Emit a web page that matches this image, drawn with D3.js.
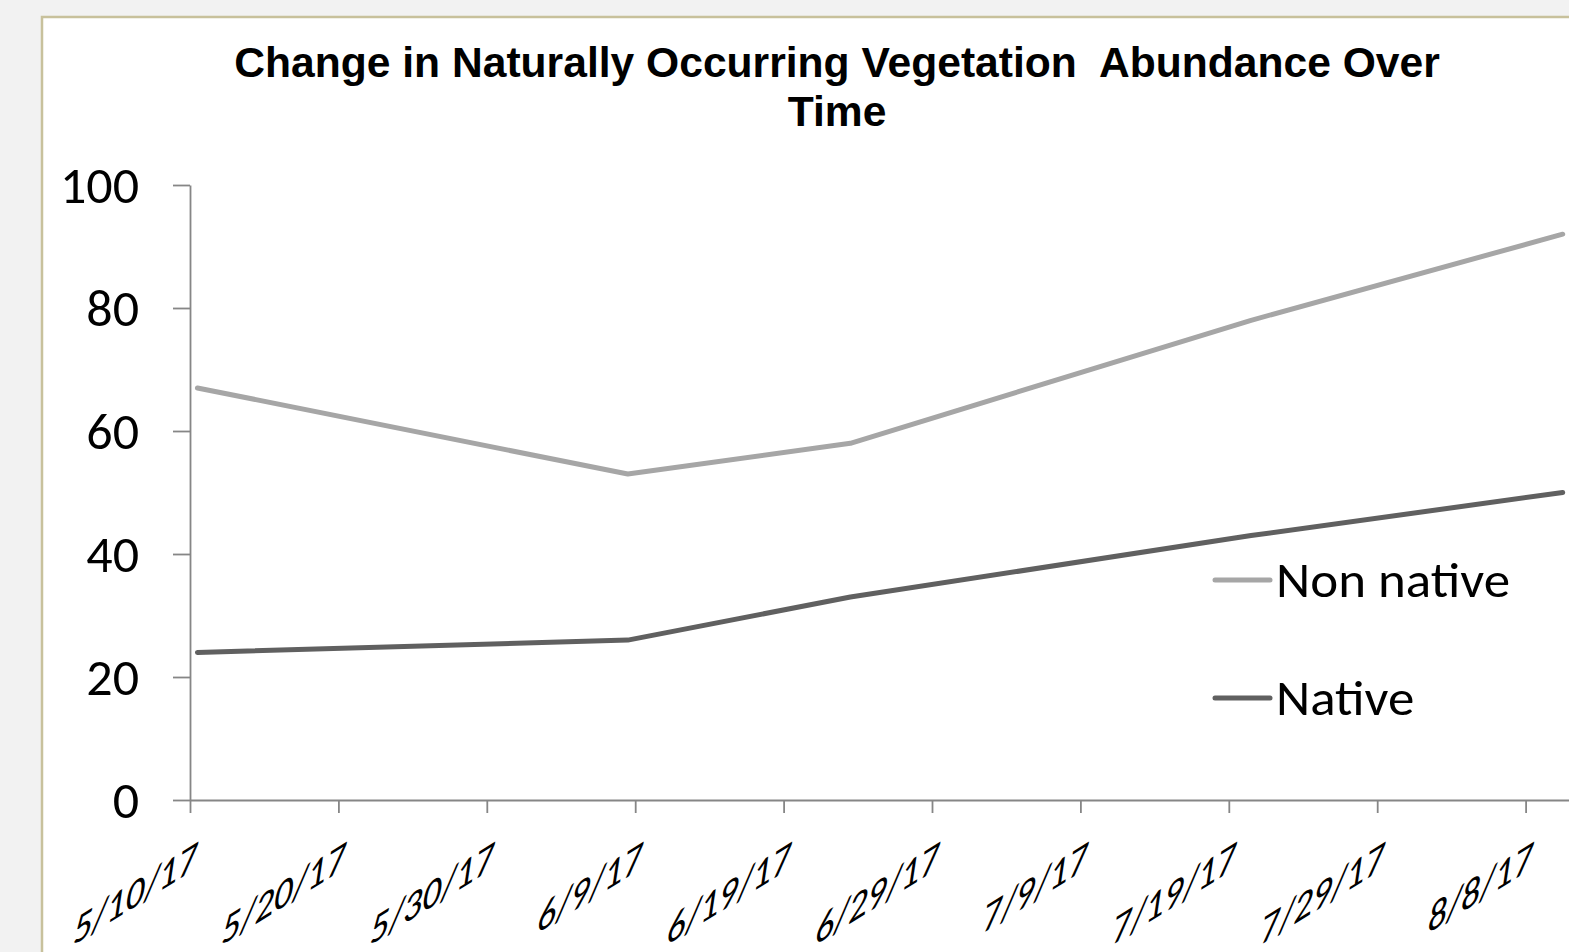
<!DOCTYPE html>
<html>
<head>
<meta charset="utf-8">
<script src="https://cdn.jsdelivr.net/npm/d3@7"></script>
<style>
  html, body { margin: 0; padding: 0; background: #f2f2f2; }
  svg { display: block; }
  .tick line, .domain { stroke: #868686; stroke-width: 1.8; }
</style>
</head>
<body>
<div id="chart-root"></div>
<script>
// values
const dates = ['2017-05-10', '2017-06-08', '2017-06-23', '2017-07-20', '2017-08-10'];
const nonNative = [67, 53, 58, 78, 92];
const native = [24, 26, 33, 43, 50];
const seriesNames = ['Non native', 'Native'];
const seriesColors = ['#a6a6a6', '#606060'];
const xTickDates = ['2017-05-10', '2017-05-20', '2017-05-30', '2017-06-09', '2017-06-19',
                    '2017-06-29', '2017-07-09', '2017-07-19', '2017-07-29', '2017-08-08'];
const yTicks = [0, 20, 40, 60, 80, 100];
const titleLines = ['Change in Naturally Occurring Vegetation  Abundance Over', 'Time'];

const parse = d3.timeParse('%Y-%m-%d');
const fmt = d3.timeFormat('%-m/%-d/%y');
const halfDay = 12 * 3600 * 1000; // excel puts a point in the middle of its day

var width = 1569, height = 952;
var margin = {left: 190, top: 185, bottom: 800};

var svg = d3.select('#chart-root').append('svg')
    .attr('width', width).attr('height', height);

// chart area box (runs off the right and bottom edge)
svg.append('rect')
    .attr('x', 42).attr('y', 17)
    .attr('width', 1600).attr('height', 1000)
    .attr('fill', '#ffffff')
    .attr('stroke', '#c8c19c').attr('stroke-width', 2.5);

// title
svg.append('g').selectAll('text')
    .data(titleLines)
    .join('text')
    .attr('x', 837)
    .attr('y', (d, i) => 77 + i * 49)
    .attr('text-anchor', 'middle')
    .style('white-space', 'pre')
    .attr('font-family', "Arial, 'Liberation Sans', sans-serif")
    .attr('font-weight', 'bold')
    .attr('font-size', 42.6)
    .attr('fill', '#000')
    .text(d => d);

var x = d3.scaleTime()
    .domain([parse('2017-05-10'), parse('2017-08-18')])
    .range([margin.left, margin.left + 1484]);

var y = d3.scaleLinear()
    .domain([0, 100])
    .range([margin.bottom, margin.top]);

var labelFont = "Calibri, Carlito, 'Noto Sans', sans-serif";

// y axis
var yAxisG = svg.append('g')
    .attr('transform', 'translate(' + margin.left + ',0)')
    .call(d3.axisLeft(y).tickValues(yTicks).tickSize(17).tickPadding(34).tickSizeOuter(0));
yAxisG.selectAll('text')
    .attr('font-family', labelFont)
    .attr('font-size', 52)
    .attr('dy', '0.33em')
    .attr('fill', '#000');

// x axis
var xAxisG = svg.append('g')
    .attr('transform', 'translate(0,' + margin.bottom + ')')
    .call(d3.axisBottom(x)
        .tickValues(xTickDates.map(parse))
        .tickFormat(fmt)
        .tickSize(13)
        .tickSizeOuter(0));
// slanted labels, skewed like the original
xAxisG.selectAll('text')
    .attr('y', 0).attr('dy', 0)
    .attr('text-anchor', 'end')
    .attr('font-family', labelFont)
    .attr('font-size', 44)
    .attr('fill', '#000')
    .attr('transform', 'translate(5,69) matrix(0.85,-0.53,-0.15,1,0,0)');

svg.selectAll('.domain').attr('stroke', '#868686');
svg.selectAll('.tick line').attr('stroke', '#868686');

// lines
var series = [nonNative, native];
var line = d3.line()
    .x((d, i) => x(new Date(parse(dates[i]).getTime() + halfDay)))
    .y(d => y(d));

svg.append('g').selectAll('path')
    .data(series)
    .join('path')
    .attr('d', d => line(d))
    .attr('fill', 'none')
    .attr('stroke', (d, i) => seriesColors[i])
    .attr('stroke-width', 5)
    .attr('stroke-linecap', 'round')
    .attr('stroke-linejoin', 'round');

// legend
var legend = svg.append('g').selectAll('g')
    .data(seriesNames)
    .join('g')
    .attr('transform', (d, i) => 'translate(1215,' + (580 + i * 118) + ')');
legend.append('line')
    .attr('x1', 0).attr('x2', 55)
    .attr('stroke', (d, i) => seriesColors[i])
    .attr('stroke-width', 5)
    .attr('stroke-linecap', 'round');
legend.append('text')
    .attr('transform', 'translate(61,0) scale(1.06,1)')
    .attr('dy', '0.34em')
    .attr('font-family', labelFont)
    .attr('font-size', 50)
    .attr('fill', '#000')
    .text(d => d);
</script>
</body>
</html>
